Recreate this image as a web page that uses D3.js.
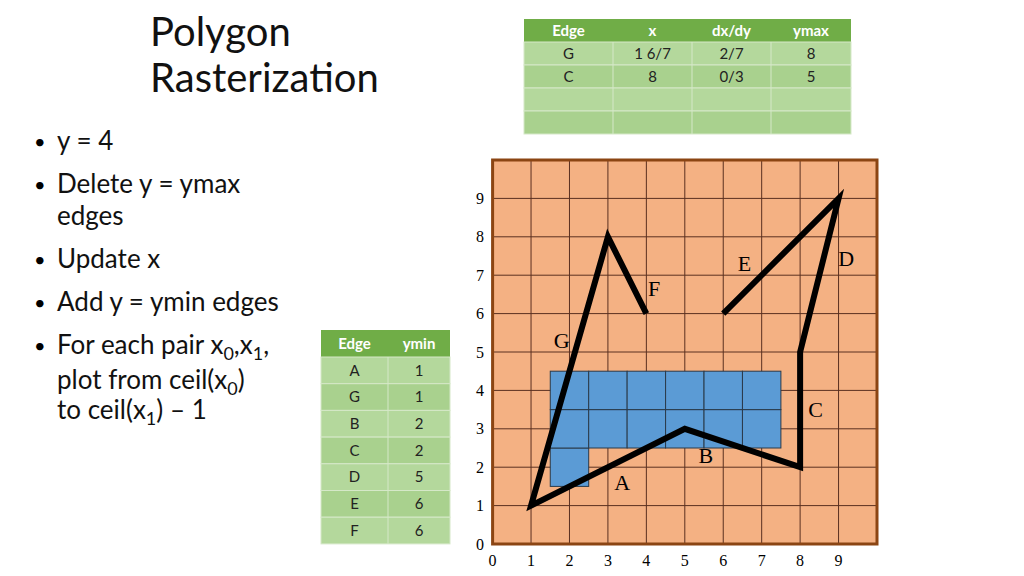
<!DOCTYPE html><html><head><meta charset="utf-8">
<script src="https://cdn.jsdelivr.net/npm/d3@7"></script>
<style>body{margin:0;background:#fff}svg{font-family:Lato,"Open Sans",sans-serif}</style></head><body>
<svg id="c" width="1024" height="576"></svg>
<script>
const ticks=[0,1,2,3,4,5,6,7,8,9];
const filledCells=[[2,2],[2,3],[3,3],[4,3],[5,3],[6,3],[7,3],[2,4],[3,4],[4,4],[5,4],[6,4],[7,4]];
const polyMain=[[4,6],[3,8],[1,1],[5,3],[8,2],[8,5],[9,9],[6,6]];
const edgeLabels=[["A",3.37,1.6],["B",5.55,2.3],["C",8.4,3.5],["D",9.2,7.45],["E",6.55,7.3],["F",4.2,6.65],["G",1.8,5.3]];
const aetHeader=["Edge","x","dx/dy","ymax"];
const aetRows=[["G","1 6/7","2/7","8"],["C","8","0/3","5"],["","","",""],["","","",""]];
const etHeader=["Edge","ymin"];
const etRows=[["A","1"],["G","1"],["B","2"],["C","2"],["D","5"],["E","6"],["F","6"]];
const bullets=[["y = 4"],["Delete y = ymax","edges"],["Update x"],["Add y = ymin edges"],["For each pair x<0>,x<1>,","plot from ceil(x<0>)","to ceil(x<1>) – 1"]];

const svg=d3.select("#c");
const x=d3.scaleLinear().domain([0,10]).range([492.6,877]);
const y=d3.scaleLinear().domain([0,10]).range([544,160]);
const g=svg.append("g");
g.append("rect").attr("x",x(0)).attr("y",y(10)).attr("width",x(10)-x(0)).attr("height",y(0)-y(10)).attr("fill","#f4b183");
const gl=d3.range(1,10);
g.selectAll("line.v").data(gl).join("line").attr("x1",d=>x(d)).attr("x2",d=>x(d)).attr("y1",y(0)).attr("y2",y(10)).attr("stroke","#5a3020").attr("stroke-width",1);
g.selectAll("line.h").data(gl).join("line").attr("y1",d=>y(d)).attr("y2",d=>y(d)).attr("x1",x(0)).attr("x2",x(10)).attr("stroke","#5a3020").attr("stroke-width",1);
g.selectAll("rect.cell").data(filledCells).join("rect").attr("x",d=>x(d[0]-0.5)).attr("y",d=>y(d[1]+0.5))
 .attr("width",x(1)-x(0)).attr("height",y(0)-y(1)).attr("fill","#5b9bd5").attr("stroke","#2a3a4a").attr("stroke-width",1);
g.append("rect").attr("x",x(0)).attr("y",y(10)).attr("width",x(10)-x(0)).attr("height",y(0)-y(10)).attr("fill","none").attr("stroke","#8b4513").attr("stroke-width",3);
g.append("path").attr("d",d3.line().x(d=>x(d[0])).y(d=>y(d[1]))(polyMain)).attr("fill","none").attr("stroke","#000").attr("stroke-width",6);
g.selectAll("text.el").data(edgeLabels).join("text").attr("x",d=>x(d[1])).attr("y",d=>y(d[2])).attr("text-anchor","middle").attr("dy","0.35em")
 .attr("font-family","Liberation Serif,serif").attr("font-size",22).text(d=>d[0]);
g.selectAll("text.xt").data(ticks).join("text").attr("x",d=>x(d)).attr("y",566).attr("text-anchor","middle").attr("font-family","Liberation Serif,serif").attr("font-size",16).text(d=>d);
g.selectAll("text.yt").data(ticks).join("text").attr("x",480).attr("y",d=>y(d)).attr("dy","0.35em").attr("text-anchor","middle").attr("font-family","Liberation Serif,serif").attr("font-size",16).text(d=>d);

function table(x0,y0,cols,headH,rowH,header,rows,fs){
  const t=svg.append("g");
  const w=cols[cols.length-1]-cols[0];
  t.append("rect").attr("x",x0).attr("y",y0).attr("width",w).attr("height",headH).attr("fill","#70ad47");
  rows.forEach((r,i)=>{
    const ry=y0+headH+i*rowH;
    t.append("rect").attr("x",x0).attr("y",ry).attr("width",w).attr("height",rowH).attr("fill",i%2?"#a9d18e":"#b4d89c").attr("stroke","#d5e8c8").attr("stroke-width",1);
    r.forEach((c,j)=>{ if(c) t.append("text").attr("x",(cols[j]+cols[j+1])/2).attr("y",ry+rowH/2).attr("dy","0.35em").attr("text-anchor","middle").attr("font-size",fs).attr("fill","#222").text(c);});
  });
  cols.slice(1,-1).forEach(cx=>t.append("line").attr("x1",cx).attr("x2",cx).attr("y1",y0+headH).attr("y2",y0+headH+rows.length*rowH).attr("stroke","#d5e8c8"));
  header.forEach((c,j)=>t.append("text").attr("x",(cols[j]+cols[j+1])/2).attr("y",y0+headH/2).attr("dy","0.35em").attr("text-anchor","middle").attr("font-size",fs).attr("fill","#fff").attr("font-weight","bold").text(c));
}
table(524,19,[524,613,692,771,851],23,23,aetHeader,aetRows,15);
table(321,330,[321,388,450],27,26.7,etHeader,etRows,15);

svg.append("text").attr("x",150).attr("y",46).attr("font-size",40).attr("fill","#111").text("Polygon");
svg.append("text").attr("x",150).attr("y",92).attr("font-size",40).attr("fill","#111").text("Rasterization");
const lineYs=[[150],[193,225],[268],[311],[354,389,419]];
bullets.forEach((b,i)=>{
  svg.append("text").attr("x",34).attr("y",lineYs[i][0]-1).attr("font-size",20).text("•");
  b.forEach((ln,k)=>{
    const t=svg.append("text").attr("x",57).attr("y",lineYs[i][k]).attr("font-size",26).attr("fill","#111");
    let sub=false;
    ln.split(/(<\d>)/).forEach(p=>{
      const m=p.match(/^<(\d)>$/);
      if(m){ t.append("tspan").attr("font-size",18).attr("dy",6).text(m[1]); sub=true; }
      else if(p){ const s=t.append("tspan").text(p); if(sub){s.attr("dy",-6); sub=false;} }
    });
  });
});
</script></body></html>
